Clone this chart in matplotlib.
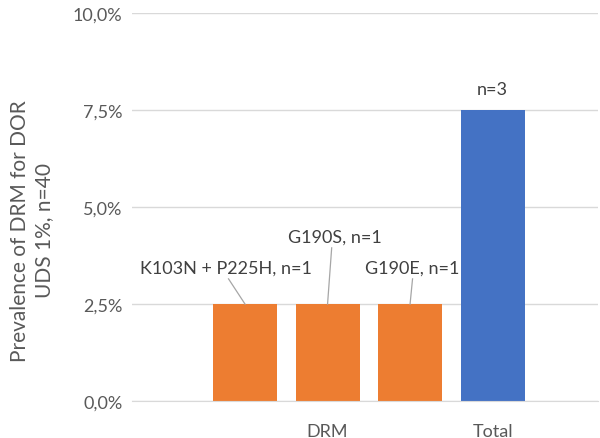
import matplotlib.pyplot as plt
from matplotlib.ticker import FuncFormatter

plt.rcParams['font.family'] = ['Lato', 'DejaVu Sans']

bar_labels = ['K103N + P225H, n=1', 'G190S, n=1', 'G190E, n=1', 'n=3']
values = [2.5, 2.5, 2.5, 7.5]
colors = ['#ED7D31', '#ED7D31', '#ED7D31', '#4472C4']
group_names = ['DRM', 'Total']
group_pos = [1, 3]
yticks = [0, 2.5, 5.0, 7.5, 10.0]

# label placement (text position, leader start) in data units
label_text = [(-0.23, 3.45), (1.09, 4.25), (2.03, 3.45), (3.0, 8.05)]
label_lead = [(-0.2, 3.15), (1.05, 3.95), (2.03, 3.15), None]

fig = plt.figure(figsize=(6, 4.39), dpi=100)
ax = fig.add_axes([0.22, 0.084, 0.777, 0.884])

x = list(range(len(values)))
ax.bar(x, values, width=0.776, color=colors, zorder=2)

ax.set_xlim(-1.37, 4.28)
ax.set_ylim(0, 10)
ax.set_yticks(yticks)
ax.yaxis.set_major_formatter(FuncFormatter(lambda v, p: f'{v:.1f}%'.replace('.', ',')))
ax.grid(axis='y', color='#D9D9D9', linewidth=1, zorder=0)
ax.set_xticks(group_pos)
ax.set_xticklabels(group_names)
ax.tick_params(axis='both', length=0, labelsize=13, colors='#595959')
ax.tick_params(axis='x', pad=16)
ax.tick_params(axis='y', pad=7)
for s in ['top', 'right', 'left']:
    ax.spines[s].set_visible(False)
ax.spines['bottom'].set_color('#D9D9D9')

fig.text(0.053, 0.474, 'Prevalence of DRM for DOR\nUDS 1%, n=40', fontsize=15, color='#595959',
         rotation=90, ha='center', va='center', multialignment='center', linespacing=1.25)

for i, lab in enumerate(bar_labels):
    tx, ty = label_text[i]
    ax.text(tx, ty, lab, ha='center', va='center', fontsize=13, color='#404040')
    if label_lead[i] is not None:
        lx, ly = label_lead[i]
        ax.plot([lx, x[i]], [ly, values[i]], color='#A6A6A6', linewidth=0.9, zorder=3)

fig.savefig('out.png', dpi=100)
